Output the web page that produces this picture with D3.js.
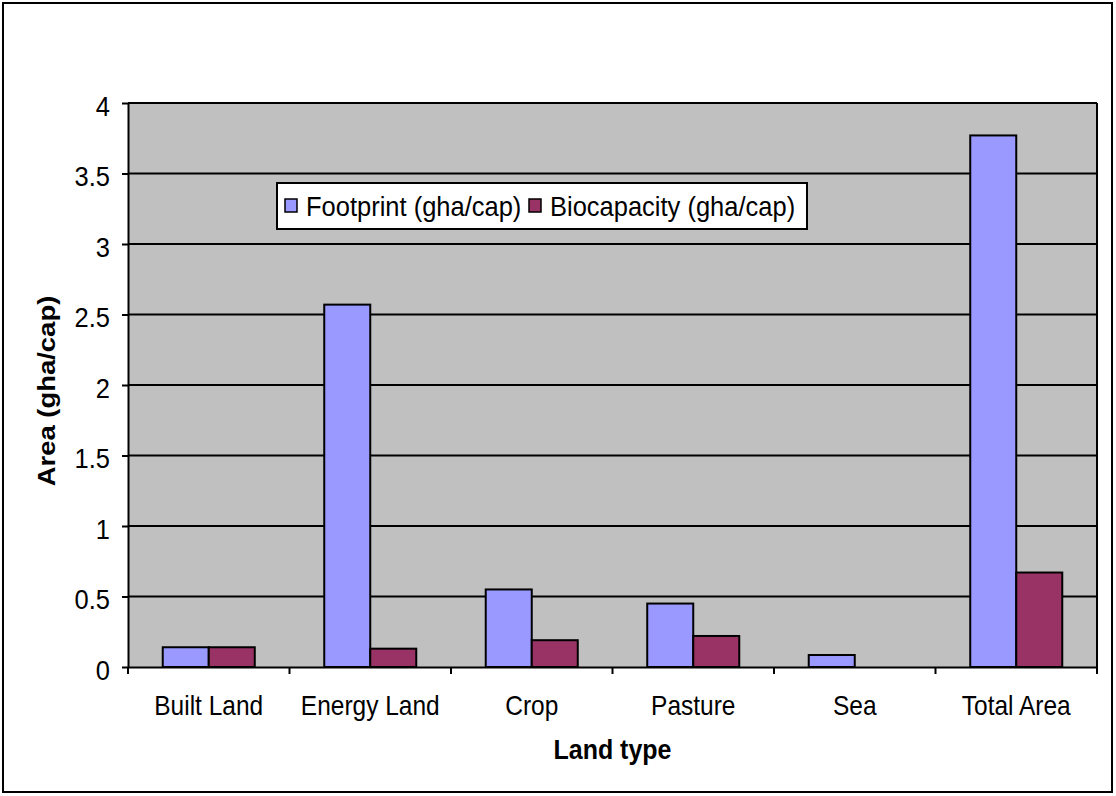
<!DOCTYPE html>
<html>
<head>
<meta charset="utf-8">
<script src="https://cdn.jsdelivr.net/npm/d3@7/dist/d3.min.js"></script>
<style>
  html, body { margin: 0; padding: 0; background: #ffffff; }
  svg { display: block; font-family: "Liberation Sans", Arial, sans-serif; }
</style>
</head>
<body>
<svg id="chart" width="1116" height="796"></svg>
<script>
// Ecological footprint vs. biocapacity per land type (gha per capita)
const categories = ["Built Land", "Energy Land", "Crop", "Pasture", "Sea", "Total Area"];
const footprint = [0.14, 2.57, 0.55, 0.45, 0.085, 3.77];
const biocapacity = [0.14, 0.13, 0.19, 0.22, 0, 0.67];
const seriesNames = ["Footprint (gha/cap)", "Biocapacity (gha/cap)"];
const yTicks = [0, 0.5, 1, 1.5, 2, 2.5, 3, 3.5, 4];

const colors = ["#9999ff", "#993366"];
const svg = d3.select("#chart");
const W = 1116, H = 796;
const plot = { left: 128, top: 103, right: 1097, bottom: 667 };
const TALL = 1.12; // glyphs are drawn slightly taller than wide

// outer chart frame
svg.append("rect")
  .attr("x", 3).attr("y", 3)
  .attr("width", W - 7).attr("height", H - 7)
  .attr("fill", "#ffffff").attr("stroke", "#000").attr("stroke-width", 2);

const x = d3.scaleBand().domain(categories).range([plot.left, plot.right]).paddingInner(0).paddingOuter(0);
const x1 = d3.scaleBand().domain([0, 1]).range([0, x.bandwidth()]).paddingInner(0).paddingOuter(0.755);
const y = d3.scaleLinear().domain([0, 4]).range([plot.bottom, plot.top]);

// plot area background
svg.append("rect")
  .attr("x", plot.left).attr("y", plot.top)
  .attr("width", plot.right - plot.left).attr("height", plot.bottom - plot.top)
  .attr("fill", "#c0c0c0");

// horizontal gridlines
svg.append("g").selectAll("line").data(yTicks.filter(d => d > 0)).join("line")
  .attr("x1", plot.left).attr("x2", plot.right)
  .attr("y1", d => y(d)).attr("y2", d => y(d))
  .attr("stroke", "#000").attr("stroke-width", 2);

// right border of plot area
svg.append("line")
  .attr("x1", plot.right).attr("x2", plot.right)
  .attr("y1", plot.top).attr("y2", plot.bottom)
  .attr("stroke", "#000").attr("stroke-width", 2);

// bars
const rows = categories.map((c, i) => ({ c, vals: [footprint[i], biocapacity[i]] }));
const groups = svg.append("g").selectAll("g").data(rows).join("g")
  .attr("transform", d => `translate(${x(d.c)},0)`);
groups.selectAll("rect").data(d => d.vals.map((v, k) => ({ v, k })).filter(e => e.v > 0)).join("rect")
  .attr("x", e => x1(e.k))
  .attr("width", x1.bandwidth())
  .attr("y", e => y(e.v))
  .attr("height", e => y(0) - y(e.v))
  .attr("fill", e => colors[e.k])
  .attr("stroke", "#000").attr("stroke-width", 2);

// y axis
const yAxis = d3.axisLeft(y).tickValues(yTicks).tickSize(6).tickSizeOuter(0)
  .tickFormat(d => String(d));
const gy = svg.append("g").attr("transform", `translate(${plot.left},0)`).call(yAxis);
gy.select(".domain").attr("stroke", "#000").attr("stroke-width", 2);
gy.selectAll(".tick line").attr("stroke", "#000").attr("stroke-width", 2);
gy.selectAll(".tick text")
  .attr("font-size", 25.5).attr("fill", "#000")
  .attr("font-family", "'Liberation Sans', Arial, sans-serif")
  .attr("x", null).attr("dy", null)
  .attr("transform", `translate(-18,12) scale(1,${TALL})`);

// x axis
const xAxis = d3.axisBottom(x).tickSize(0).tickSizeOuter(0);
const gx = svg.append("g").attr("transform", `translate(0,${plot.bottom})`).call(xAxis);
gx.select(".domain").attr("stroke", "#000").attr("stroke-width", 2);
gx.selectAll(".tick text")
  .attr("font-size", 24.5).attr("fill", "#000")
  .attr("font-family", "'Liberation Sans', Arial, sans-serif")
  .attr("y", null).attr("dy", null)
  .attr("transform", `translate(0,48) scale(1,${TALL})`);
// tick marks at category boundaries
const bounds = categories.map(c => x(c)).concat([plot.right]);
svg.append("g").selectAll("line").data(bounds).join("line")
  .attr("x1", d => d).attr("x2", d => d)
  .attr("y1", plot.bottom).attr("y2", plot.bottom + 7)
  .attr("stroke", "#000").attr("stroke-width", 2);

// axis titles
svg.append("text")
  .attr("transform", `translate(55,391) rotate(-90) scale(${TALL},1)`)
  .attr("text-anchor", "middle")
  .attr("font-size", 24.5).attr("font-weight", "bold").text("Area (gha/cap)");
svg.append("text")
  .attr("transform", `translate(${(plot.left + plot.right) / 2},759) scale(1,${TALL})`)
  .attr("text-anchor", "middle")
  .attr("font-size", 25).attr("font-weight", "bold").text("Land type");

// legend
const lg = svg.append("g").attr("transform", "translate(277,183)");
lg.append("rect").attr("width", 530).attr("height", 46)
  .attr("fill", "#fff").attr("stroke", "#000").attr("stroke-width", 2);
const items = [{ x: 8, t: seriesNames[0], c: colors[0] }, { x: 252, t: seriesNames[1], c: colors[1] }];
items.forEach(it => {
  lg.append("rect").attr("x", it.x).attr("y", 16).attr("width", 12).attr("height", 13)
    .attr("fill", it.c).attr("stroke", "#000").attr("stroke-width", 1.5);
  lg.append("text")
    .attr("transform", `translate(${it.x + 21},33) scale(1,${TALL})`)
    .attr("font-size", 25.5).text(it.t);
});
</script>
</body>
</html>
